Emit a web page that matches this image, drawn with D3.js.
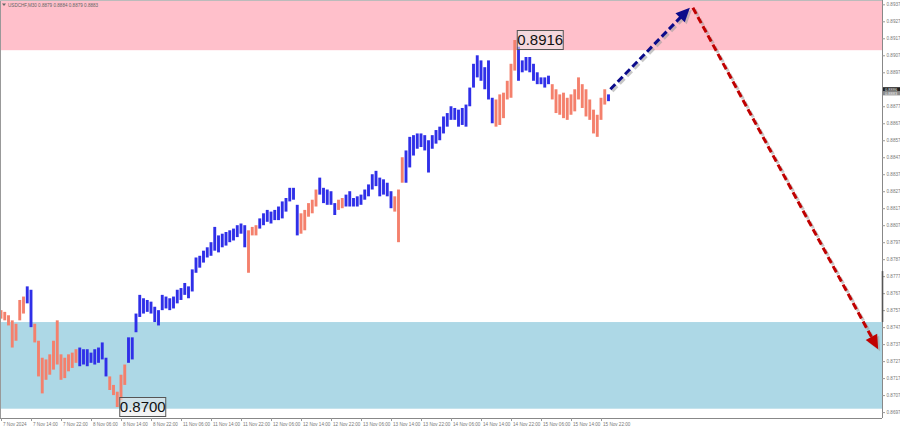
<!DOCTYPE html>
<html><head><meta charset="utf-8">
<script src="https://cdn.jsdelivr.net/npm/d3@7"></script>
<style>body{margin:0;background:#fff;} svg{display:block;}</style>
</head><body>
<script>
// ---------------- DATA ----------------
const chartTitle = "USDCHF,M30  0.8879 0.8884 0.8879 0.8883";
// hourly high / low (bar index 0 = first bar)
const barHigh = [
0.8757,0.8756,0.8754,0.8751,0.8749,0.8763,0.8765,0.8771,0.8769,0.8749,
0.8739,0.8729,0.8728,0.8731,0.8739,0.8751,0.8731,0.8729,0.8731,0.8732,
0.8734,0.8735,0.8734,0.8734,0.8732,0.8734,0.8735,0.8738,0.8729,0.8718,
0.8713,0.8709,0.8719,0.8725,0.8741,0.8741,0.8755,0.8766,0.8764,0.8763,
0.8762,0.8759,0.8757,0.8766,0.8765,0.8764,0.8765,0.8769,0.8770,0.8773,
0.8771,0.8781,0.8788,0.8789,0.8792,0.8794,0.8797,0.8806,0.8801,0.8802,
0.8803,0.8804,0.8805,0.8807,0.8808,0.8807,0.8804,0.8806,0.8807,0.8811,
0.8814,0.8816,0.8815,0.8816,0.8818,0.8821,0.8823,0.8829,0.8829,0.8819,
0.8814,0.8816,0.8820,0.8822,0.8828,0.8835,0.8829,0.8828,0.8827,0.8820,
0.8822,0.8823,0.8825,0.8827,0.8823,0.8824,0.8825,0.8828,0.8831,0.8837,
0.8839,0.8835,0.8834,0.8832,0.8827,0.8824,0.8828,0.8847,0.8851,0.8859,
0.8860,0.8861,0.8861,0.8860,0.8857,0.8860,0.8863,0.8865,0.8871,0.8873,
0.8877,0.8876,0.8875,0.8876,0.8878,0.8888,0.8902,0.8907,0.8904,0.8900,
0.8904,0.8882,0.8881,0.8884,0.8885,0.8892,0.8902,0.8916,0.8912,0.8904,
0.8906,0.8906,0.8902,0.8897,0.8894,0.8894,0.8895,0.8890,0.8887,0.8884,
0.8885,0.8882,0.8884,0.8887,0.8894,0.8890,0.8887,0.8881,0.8875,0.8872,
0.8882,0.8887,0.8884];
const barLow = [
0.8752,0.8751,0.8748,0.8735,0.8739,0.8751,0.8755,0.8761,0.8747,0.8738,
0.8718,0.8708,0.8716,0.8719,0.8722,0.8725,0.8716,0.8717,0.8721,0.8723,
0.8726,0.8724,0.8725,0.8724,0.8726,0.8725,0.8726,0.8728,0.8718,0.8710,
0.8707,0.8700,0.8704,0.8713,0.8726,0.8728,0.8744,0.8753,0.8755,0.8756,
0.8755,0.8750,0.8748,0.8757,0.8758,0.8757,0.8758,0.8761,0.8763,0.8766,
0.8764,0.8768,0.8779,0.8782,0.8785,0.8788,0.8789,0.8792,0.8791,0.8794,
0.8795,0.8797,0.8798,0.8800,0.8802,0.8794,0.8779,0.8801,0.8801,0.8805,
0.8807,0.8809,0.8808,0.8810,0.8810,0.8811,0.8815,0.8821,0.8822,0.8801,
0.8802,0.8804,0.8812,0.8814,0.8818,0.8825,0.8820,0.8819,0.8819,0.8813,
0.8816,0.8817,0.8818,0.8818,0.8818,0.8818,0.8819,0.8822,0.8824,0.8828,
0.8830,0.8824,0.8825,0.8824,0.8817,0.8815,0.8797,0.8832,0.8832,0.8841,
0.8848,0.8852,0.8853,0.8851,0.8838,0.8852,0.8855,0.8857,0.8861,0.8865,
0.8869,0.8869,0.8865,0.8866,0.8865,0.8877,0.8888,0.8894,0.8892,0.8887,
0.8881,0.8867,0.8865,0.8866,0.8870,0.8881,0.8882,0.8898,0.8892,0.8897,
0.8898,0.8897,0.8892,0.8890,0.8890,0.8888,0.8890,0.8881,0.8873,0.8872,
0.8870,0.8869,0.8872,0.8874,0.8881,0.8876,0.8871,0.8869,0.8861,0.8859,
0.8869,0.8878,0.8880];
// wave segments: [first bar, last bar, wave type]
const waveSegments = [
[0,6,"corr"],[7,8,"impulse"],[9,20,"corr"],[21,28,"impulse"],[29,33,"corr"],
[34,65,"impulse"],[66,68,"corr"],[69,79,"impulse"],[80,84,"corr"],[85,89,"impulse"],
[90,91,"corr"],[92,104,"impulse"],[105,107,"corr"],[108,131,"impulse"],[132,137,"corr"],
[138,146,"impulse"],[147,161,"corr"],[162,162,"impulse"]];
const timeLabels = ["7 Nov 2024","7 Nov 14:00","7 Nov 22:00","8 Nov 06:00","8 Nov 14:00","8 Nov 22:00",
"11 Nov 06:00","11 Nov 14:00","11 Nov 22:00","12 Nov 06:00","12 Nov 14:00","12 Nov 22:00",
"13 Nov 06:00","13 Nov 14:00","13 Nov 22:00","14 Nov 06:00","14 Nov 14:00","14 Nov 22:00",
"15 Nov 06:00","15 Nov 14:00","15 Nov 22:00"];
const timeLabelBars = [0,8,16,24,32,40,48,56,64,72,80,88,96,104,112,120,128,136,144,152,160];
// (the 0.8887 grid label is covered by the current-price box in the original)
const priceTicks = [0.8937,0.8927,0.8917,0.8907,0.8897,0.8877,0.8867,0.8857,0.8847,0.8837,0.8827,
0.8817,0.8807,0.8797,0.8787,0.8777,0.8767,0.8757,0.8747,0.8737,0.8727,0.8717,0.8707,0.8697];
const resistanceZone = [0.8910, 0.8950];
const supportZone = [0.8699, 0.8750];
const axisMarker = [0.8750, 0.8780];
const forecastUp = [[162.5, 0.8887],[183.7, 0.8935]];
const forecastDown = [[184.5, 0.8935],[233.9, 0.8734]];
const extremes = [{bar:137, price:0.8916, text:"0.8916"},{bar:31, price:0.8700, text:"0.8700"}];
const currentPrices = [0.8886, 0.8883];

// ---------------- CHART ----------------
const W = 900, H = 430, plotR = 882, plotB = 418;
const x = d3.scaleLinear().domain([0,160]).range([1,601]);
const y = d3.scaleLinear().domain([0.8700,0.8916]).range([407,40]);
const waveColor = d3.scaleOrdinal().domain(["impulse","corr"]).range(["#2f2fe8","#f4806c"]);

const svg = d3.select("body").append("svg").attr("width",W).attr("height",H)
  .style("font-family","'Liberation Sans', Arial, sans-serif");
svg.append("rect").attr("width",W).attr("height",H).attr("fill","#fff");

const defs = svg.append("defs");
defs.append("clipPath").attr("id","plot").append("rect").attr("x",0).attr("y",0).attr("width",plotR).attr("height",plotB);
const g = svg.append("g").attr("clip-path","url(#plot)");

// zones
g.append("rect").attr("x",0).attr("width",plotR)
  .attr("y",y(resistanceZone[1])).attr("height",y(resistanceZone[0])-y(resistanceZone[1])).attr("fill","#ffc0cb");
g.append("rect").attr("x",0).attr("width",plotR)
  .attr("y",y(supportZone[1])).attr("height",y(supportZone[0])-y(supportZone[1])).attr("fill","#add8e6");

// bars
const barColor = [];
waveSegments.forEach(([a,b,t])=>{ for(let i=a;i<=b;i++) barColor[i]=t; });
g.append("g").selectAll("line").data(barHigh).join("line")
  .attr("x1",(d,i)=>x(i)).attr("x2",(d,i)=>x(i))
  .attr("y1",d=>y(d)).attr("y2",(d,i)=>y(barLow[i]))
  .attr("stroke",(d,i)=>waveColor(barColor[i])).attr("stroke-width",2.9);

// forecast arrows
function arrow(pts, color){
  const x1=x(pts[0][0]), y1=y(pts[0][1]), x2=x(pts[1][0]), y2=y(pts[1][1]);
  const dx=x2-x1, dy=y2-y1, L=Math.hypot(dx,dy), ux=dx/L, uy=dy/L;
  const hl=14, hw=6.5;
  const bx=x2-ux*hl, by=y2-uy*hl;
  const head=[[x2,y2],[bx-uy*hw,by+ux*hw],[bx+uy*hw,by-ux*hw]];
  [[2,2,"#9a9a9a",0.55],[0,0,color,1]].forEach(([ox,oy,c,op])=>{
    const gg=g.append("g").attr("transform",`translate(${ox},${oy})`).attr("opacity",op);
    gg.append("line").attr("x1",x1).attr("y1",y1).attr("x2",bx+ux*2).attr("y2",by+uy*2)
      .attr("stroke",c).attr("stroke-width",3).attr("stroke-dasharray","7,3.5");
    gg.append("polygon").attr("points",head.map(p=>p.join(",")).join(" ")).attr("fill",c);
  });
}
arrow(forecastUp,"#0b0b8a");
arrow(forecastDown,"#c00000");

// extreme labels
extremes.forEach(e=>{
  const bx=x(e.bar)+2.5, cy=y(e.price);
  g.append("rect").attr("x",bx).attr("y",cy-9.5).attr("width",46).attr("height",19)
    .attr("fill","rgba(235,235,235,0.55)").attr("stroke","#555").attr("stroke-width",1);
  g.append("text").attr("x",bx+23).attr("y",cy+5.3).attr("text-anchor","middle")
    .attr("font-size",15).attr("fill","#111").text(e.text);
});

// title
g.append("path").attr("d","M2,3.5 L6,3.5 L4,6 Z").attr("fill","#666");
g.append("text").attr("x",8).attr("y",6.6).attr("font-size",4.6).attr("fill","#666").text(chartTitle);

// frame
svg.append("line").attr("x1",0.5).attr("x2",0.5).attr("y1",0).attr("y2",plotB).attr("stroke","#999");
svg.append("line").attr("x1",0).attr("x2",plotR).attr("y1",0.5).attr("y2",0.5).attr("stroke","#bbb");

// right price axis
const yAxis = d3.axisRight(y).tickValues(priceTicks).tickSize(3).tickPadding(1.5).tickFormat(d3.format(".4f"));
const ya = svg.append("g").attr("transform",`translate(${plotR},0)`).call(yAxis);
ya.select(".domain").attr("stroke","#888").attr("d",`M0.5,0V${plotB}`);
ya.selectAll(".tick line").attr("stroke","#999");
ya.selectAll(".tick text").attr("font-size",4.6).attr("fill","#777").attr("font-family","'Liberation Sans', Arial, sans-serif");
svg.append("line").attr("x1",plotR+0.5).attr("x2",plotR+0.5).attr("y1",y(axisMarker[1])).attr("y2",y(axisMarker[0]))
  .attr("stroke","#555").attr("stroke-width",1.6);

// current price boxes
const cy0 = y(currentPrices[0]);
svg.append("rect").attr("x",plotR+1).attr("y",cy0-3.8).attr("width",17).attr("height",4.4).attr("fill","#222");
svg.append("text").attr("x",plotR+3).attr("y",cy0-0.2).attr("font-size",4).attr("fill","#fff").text(d3.format(".4f")(currentPrices[0]));
svg.append("rect").attr("x",plotR+1).attr("y",cy0+0.6).attr("width",17).attr("height",3.8).attr("fill","#8a8a8a");
svg.append("text").attr("x",plotR+3).attr("y",cy0+3.9).attr("font-size",4).attr("fill","#f4f4f4").text(d3.format(".4f")(currentPrices[1]));

// bottom time axis
const xAxis = d3.axisBottom(x).tickValues(timeLabelBars).tickSize(3).tickPadding(2)
  .tickFormat((d,i)=>timeLabels[i]);
const xa = svg.append("g").attr("transform",`translate(0,${plotB})`).call(xAxis);
xa.select(".domain").attr("stroke","#888").attr("d",`M0,0.5H${plotR}`);
xa.selectAll(".tick line").attr("stroke","#999");
xa.selectAll(".tick text").attr("font-size",4.6).attr("fill","#777").attr("text-anchor","start")
  .attr("x",1.5).attr("font-family","'Liberation Sans', Arial, sans-serif");
</script>
</body></html>
